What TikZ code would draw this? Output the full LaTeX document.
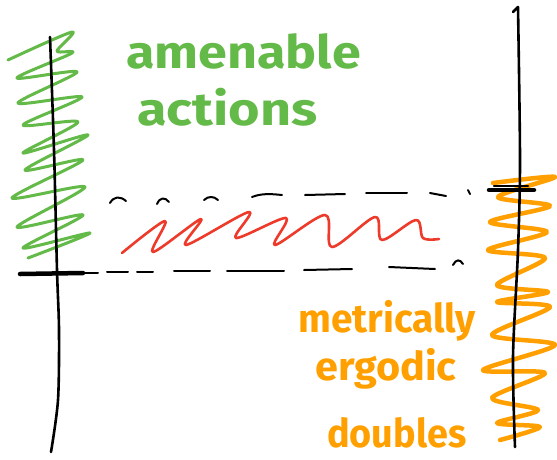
\documentclass[tikz,border=0pt]{standalone}
\usepackage{fontspec}
\setmainfont{Fira Sans}
\definecolor{sgreen}{RGB}{100,186,72}
\definecolor{sred}{RGB}{238,58,42}
\definecolor{sorange}{RGB}{255,160,0}
\begin{document}
\begin{tikzpicture}[x=1pt,y=-1pt,line cap=round,line join=round,
  axis/.style={black,line width=2.6pt},
  tick/.style={black,line width=4.5pt},
  dsh/.style={black,line width=2pt},
  hatchg/.style={sgreen,line width=3pt},
  hatcho/.style={sorange,line width=4.5pt},
  wave/.style={sred,line width=2.6pt},
  gtext/.style={sgreen,font=\fontsize{40}{40}\selectfont\bfseries,anchor=base west,inner sep=0pt},
  otext/.style={sorange,font=\fontsize{36}{36}\selectfont\bfseries,anchor=base west,inner sep=0pt}]
\useasboundingbox (0,0) rectangle (557,459);
% green hatch
\draw[hatchg] plot[smooth,tension=0.5] coordinates {(8,60) (72,32) (57,51) (72,53) (17,78) (77,72) (18,103) (82,97) (23,125) (78,122) (23,153) (88,135) (25,170) (83,160) (12,198) (85,187) (17,227) (83,215) (23,248) (90,233) (28,258)};
% orange hatch
\draw[hatcho] plot[smooth,tension=0.5] coordinates {(493,183) (555,177) (498,197) (550,206) (490,222) (547,232) (488,250) (545,258) (497,285) (548,292) (497,302) (550,307) (492,335) (555,345) (483,370) (545,373) (492,398) (538,410) (497,423) (540,427) (500,440)};
% axes
\draw[axis] plot[smooth] coordinates {(50,37) (54,150) (57,270) (59,330) (58,400) (51,452)};
\draw[axis] (513,12) -- (518,7) plot[smooth] coordinates {(518,7) (520,160) (518,250) (513,357) (515,447)};
% ticks
\draw[tick] (20,274) -- (83,273);
\draw[tick] (489,190) -- (534,190);
\draw[dsh,line width=2.4pt] (494,186) -- (528,186);
% top dashed line
\draw[dsh] (110,203) .. controls (114,196) and (120,196) .. (126,201);
\draw[dsh] (157,204) .. controls (160,197) and (165,197) .. (169,202);
\draw[dsh] (204,200) .. controls (208,196) and (214,196) .. (218,200);
\draw[dsh] (252,197) .. controls (262,193) and (272,194) .. (282,195);
\draw[dsh] (305,195) -- (345,194);
\draw[dsh] (366,193) -- (407,193);
\draw[dsh] (430,193) -- (446,196);
\draw[dsh] (468,190) -- (470,194);
% bottom dashed line
\draw[dsh] (85,273) -- (98,273);
\draw[dsh] (107,272) -- (128,272);
\draw[dsh] (137,272) -- (153,272);
\draw[dsh] (174,271) -- (210,271);
\draw[dsh] (227,271) -- (284,271);
\draw[dsh] (304,270) -- (352,269);
\draw[dsh] (389,267) -- (435,269);
\draw[dsh] (453,265) .. controls (456,259) and (460,259) .. (463,264);
% red wave
\draw[wave] plot[smooth,tension=0.55] coordinates {(122,253) (165,221) (153,252) (201,219) (186,245) (249,212) (236,238) (286,218) (275,245) (325,215) (332,247) (375,217) (382,240) (416,220) (423,238) (439,239)};
% texts
\node[gtext] (amen) at (126,68) {\scalebox{1.3}[1.15]{amenable}};
\node[gtext] (act) at (137,125) {\scalebox{1.35}[1.15]{actions}};
\node[otext] (metr) at (298,332) {\scalebox{1.08}[1.1]{metrically}};
\node[otext] (ergo) at (315,380) {\scalebox{1.15}[1.1]{ergodic}};
\node[otext] (doub) at (327,447) {\scalebox{1.05}[1.1]{doubles}};
\end{tikzpicture}
\end{document}
